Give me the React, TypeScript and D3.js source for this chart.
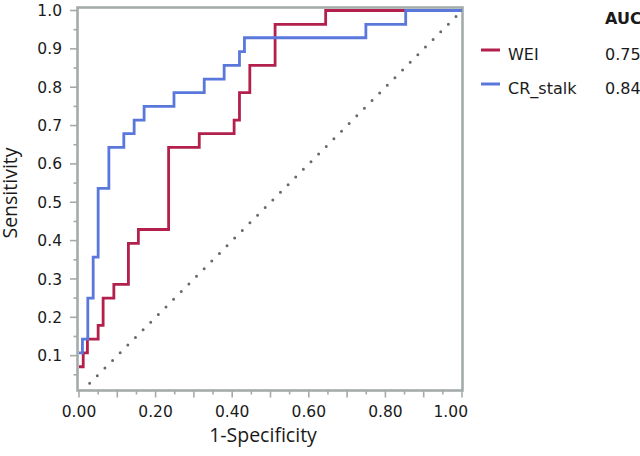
import React from "react";
import * as d3 from "d3";

// ROC step vertices (1-specificity, sensitivity), drawn as step-after
const WEI_FPR = [0, 0.011, 0.022, 0.05, 0.063, 0.091, 0.129, 0.155, 0.234, 0.314, 0.405, 0.419, 0.446, 0.512, 0.644, 1.0];
const WEI_TPR = [0.071, 0.107, 0.143, 0.179, 0.25, 0.286, 0.393, 0.429, 0.643, 0.679, 0.714, 0.786, 0.857, 0.964, 1.0, 1.0];

const CR_FPR = [0, 0.009, 0.023, 0.037, 0.05, 0.078, 0.117, 0.144, 0.17, 0.248, 0.327, 0.379, 0.419, 0.432, 0.749, 0.853, 1.0];
const CR_TPR = [0.107, 0.143, 0.25, 0.357, 0.536, 0.643, 0.679, 0.714, 0.75, 0.786, 0.821, 0.857, 0.893, 0.929, 0.964, 1.0, 1.0];

const SERIES_NAMES = ["WEI", "CR_stalk"];
const SERIES_AUC = ["0.75", "0.84"];
const SERIES_COLORS = ["#b3204c", "#5a78db"];

const X_TICK_LABELS = [0, 0.2, 0.4, 0.6, 0.8, 1.0];
const Y_TICK_LABELS = [0.1, 0.2, 0.3, 0.4, 0.5, 0.6, 0.7, 0.8, 0.9, 1.0];

const W = 640;
const H = 456;

export default function App() {
  const x = d3.scaleLinear().domain([0, 1]).range([79, 462]);
  const y = d3.scaleLinear().domain([0, 1]).range([394, 10.5]);

  const frame = { left: 77.5, right: 462.5, top: 7.5, bottom: 390.5 };
  const gray = "#a3acab";

  const line = d3
    .line<[number, number]>()
    .x((d) => x(d[0]))
    .y((d) => y(d[1]))
    .curve(d3.curveStepAfter);

  const weiPts: [number, number][] = WEI_FPR.map((f, i) => [f, WEI_TPR[i]]);
  const crPts: [number, number][] = CR_FPR.map((f, i) => [f, CR_TPR[i]]);
  const seriesPts = [weiPts, crPts];

  const minorX = d3.range(0, 21).map((i) => i * 0.05);
  const minorY = d3.range(1, 21).map((i) => i * 0.05);

  const tickFont = "'DejaVu Sans', Verdana, sans-serif";
  const titleFont = "'Open Sans', 'Noto Sans', sans-serif";

  return (
    <svg
      width={W}
      height={H}
      style={{ position: "absolute", left: 0, top: 0, background: "#fff" }}
    >
      <defs>
        <clipPath id="plotclip">
          <rect
            x={frame.left}
            y={frame.top}
            width={frame.right - frame.left}
            height={frame.bottom - frame.top}
          />
        </clipPath>
      </defs>

      {/* diagonal reference */}
      <line
        x1={x(0)}
        y1={y(0)}
        x2={x(1)}
        y2={y(1)}
        stroke="#666a6a"
        strokeWidth={3}
        strokeLinecap="round"
        strokeDasharray="0 10.8"
        strokeDashoffset={-4.3}
        clipPath="url(#plotclip)"
      />

      {/* ticks */}
      {minorX.map((v, i) => {
        const major = i % 2 === 0;
        return (
          <line
            key={"xt" + i}
            x1={x(v)}
            x2={x(v)}
            y1={frame.bottom}
            y2={frame.bottom + (major ? 7 : 4)}
            stroke={gray}
            strokeWidth={1.6}
          />
        );
      })}
      {minorY.map((v, i) => {
        const major = i % 2 === 1;
        return (
          <line
            key={"yt" + i}
            x1={frame.left}
            x2={frame.left - (major ? 7.5 : 4)}
            y1={y(v)}
            y2={y(v)}
            stroke={gray}
            strokeWidth={1.6}
          />
        );
      })}

      {/* frame */}
      <rect
        x={frame.left}
        y={frame.top}
        width={frame.right - frame.left}
        height={frame.bottom - frame.top}
        fill="none"
        stroke={gray}
        strokeWidth={2.6}
      />

      {/* curves */}
      {seriesPts.map((pts, i) => (
        <path
          key={"s" + i}
          d={line(pts) || ""}
          fill="none"
          stroke={SERIES_COLORS[i]}
          strokeWidth={2.8}
          strokeLinejoin="miter"
        />
      ))}

      {/* tick labels */}
      {Y_TICK_LABELS.map((v) => (
        <text
          key={"yl" + v}
          x={62}
          y={y(v)}
          dy="0.36em"
          textAnchor="end"
          fontFamily={tickFont}
          fontSize={15.5}
          fill="#1a1a1a"
        >
          {d3.format(".1f")(v)}
        </text>
      ))}
      {X_TICK_LABELS.map((v, i) => {
        const last = i === X_TICK_LABELS.length - 1;
        return (
          <text
            key={"xl" + v}
            x={last ? x(v) + 6 : x(v)}
            y={417}
            textAnchor={last ? "end" : "middle"}
            fontFamily={tickFont}
            fontSize={15.5}
            fill="#1a1a1a"
          >
            {d3.format(".2f")(v)}
          </text>
        );
      })}

      {/* axis titles */}
      <text
        x={263}
        y={442}
        textAnchor="middle"
        fontFamily={titleFont}
        fontSize={19.5}
        fill="#1a1a1a"
      >
        1-Specificity
      </text>
      <text
        transform="translate(17,193) rotate(-90)"
        textAnchor="middle"
        fontFamily={titleFont}
        fontSize={19.5}
        fill="#1a1a1a"
      >
        Sensitivity
      </text>

      {/* legend */}
      <text
        x={605}
        y={24}
        fontFamily={tickFont}
        fontSize={16}
        fontWeight="bold"
        fill="#1a1a1a"
      >
        AUC
      </text>
      {SERIES_NAMES.map((name, i) => {
        const base = 60 + i * 34;
        return (
          <g key={"lg" + i}>
            <line
              x1={481}
              x2={500}
              y1={base - 10}
              y2={base - 10}
              stroke={SERIES_COLORS[i]}
              strokeWidth={3}
            />
            <text x={508} y={base} fontFamily={tickFont} fontSize={16} fill="#1a1a1a">
              {name}
            </text>
            <text x={605} y={base} fontFamily={tickFont} fontSize={16} fill="#1a1a1a">
              {SERIES_AUC[i]}
            </text>
          </g>
        );
      })}
    </svg>
  );
}
